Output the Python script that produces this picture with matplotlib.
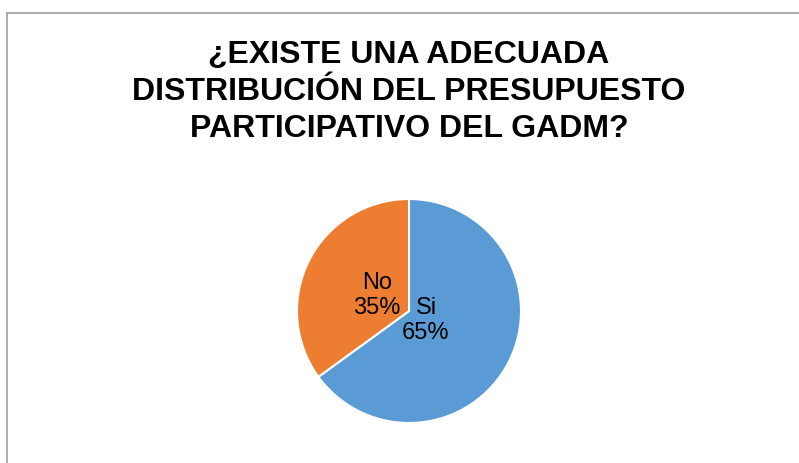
import matplotlib
matplotlib.use("Agg")
import matplotlib.pyplot as plt
from matplotlib.lines import Line2D
import numpy as np

# Survey answers
labels = ["Si", "No"]
shares = [65, 35]
colors = ["#5B9BD5", "#ED7D31"]
# how far from the centre each label sits (fraction of radius)
label_dist = [0.17, 0.32]

title_lines = [
    "¿EXISTE UNA ADECUADA",
    "DISTRIBUCIÓN DEL PRESUPUESTO",
    "PARTICIPATIVO DEL GADM?",
]

W, H = 799, 464
fig = plt.figure(figsize=(W / 100, H / 100), dpi=100, facecolor="white")
plt.rcParams["font.family"] = ["Liberation Sans", "DejaVu Sans"]

# chart frame (left + top edges only)
frame_col = "#A6A6A6"
fig.add_artist(Line2D([6.5 / W, 6.5 / W], [0, 1 - 14 / H], transform=fig.transFigure,
                      color=frame_col, lw=1.3, solid_capstyle="butt"))
fig.add_artist(Line2D([6 / W, 1], [1 - 14 / H, 1 - 14 / H], transform=fig.transFigure,
                      color=frame_col, lw=1.3, solid_capstyle="butt"))

# title, one line per text so the spacing is fixed
baselines = [63, 100, 137]
for line, yb in zip(title_lines, baselines):
    fig.text(409 / W, 1 - yb / H, line, ha="center", va="baseline",
             fontsize=23, fontweight="bold", color="black")

# pie
cx, cy, r = 409, 312, 112
ax = fig.add_axes([(cx - r) / W, (H - cy - r) / H, 2 * r / W, 2 * r / H])
wedges, _ = ax.pie(shares, colors=colors, startangle=90, counterclock=False,
                   radius=1.0, wedgeprops=dict(edgecolor="white", linewidth=1.5))
ax.set_xlim(-1, 1)
ax.set_ylim(-1, 1)
ax.set_aspect("equal")
ax.axis("off")

for w, lab, val, d in zip(wedges, labels, shares, label_dist):
    ang = np.deg2rad((w.theta1 + w.theta2) / 2)
    ax.text(d * np.cos(ang), d * np.sin(ang), f"{lab}\n{val}%",
            ha="center", va="center", fontsize=17, color="black", linespacing=1.2)

fig.savefig("out.png", dpi=100, facecolor="white")
